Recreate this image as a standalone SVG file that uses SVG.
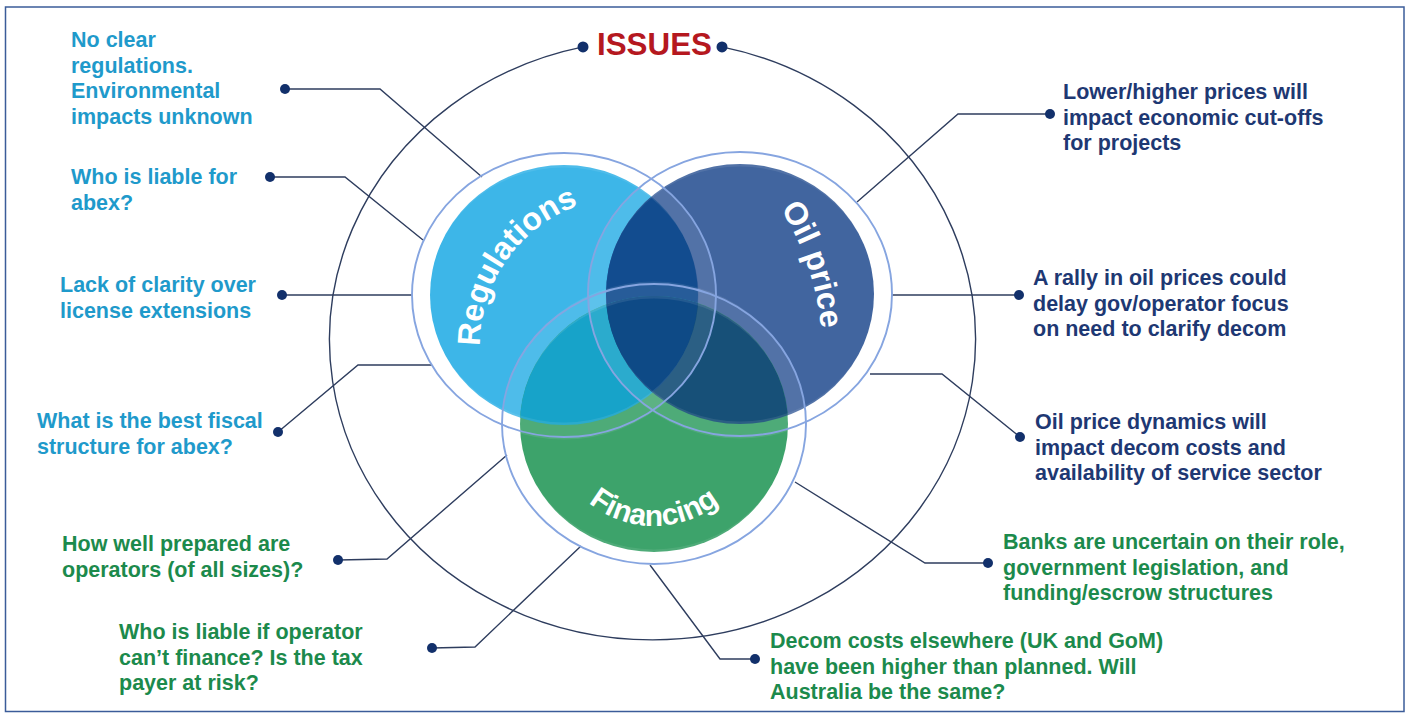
<svg xmlns="http://www.w3.org/2000/svg" width="1409" height="713" viewBox="0 0 1409 713">
<style>
.t{font-family:"Liberation Sans",Arial,sans-serif;font-weight:bold;font-size:21.5px}
.reg{fill:#1F9ACB}
.oil{fill:#1E3873}
.fin{fill:#1C8A4C}
.ln{fill:none;stroke:#2E3D5E;stroke-width:1.4}
.dot{fill:#12306B}
.ring{fill:none;stroke:#86A5E0;stroke-width:1.9}
.gap{fill:none;stroke:#FFFFFF;stroke-opacity:0.09;stroke-width:17}
.ct{font-family:"Liberation Sans",Arial,sans-serif;font-weight:bold;fill:#FFFFFF}
</style>
<defs>
<clipPath id="cReg"><ellipse cx="564" cy="295" rx="134" ry="130"/></clipPath>
<clipPath id="cOil"><ellipse cx="740" cy="294" rx="134" ry="130"/></clipPath>
<clipPath id="cFin"><ellipse cx="654" cy="424" rx="134" ry="128"/></clipPath>
<path id="pReg" d="M523.3,449.7 A148,148 0 0 1 690.5,210.9"/>
<path id="pOil" d="M691.7,120.8 A272,272 0 0 1 803.3,452.3"/>
<path id="pFin" d="M551.6,440.1 A104,104 0 0 0 756.4,440.1"/>
</defs>
<rect x="5.5" y="7" width="1398.5" height="704.5" fill="#FFFFFF" stroke="#3B5C99" stroke-width="1.5"/>

<g id="outer-ring">
<path class="ln" d="M722,46.9 A323,300 0 1 1 583,46.9"/>
</g>

<g id="connectors">
<polyline class="ln" points="285,89 380,89 482,177"/>
<polyline class="ln" points="270,177 345,177 423,240"/>
<polyline class="ln" points="282,295 412,295"/>
<polyline class="ln" points="278,432 358,365 432,365"/>
<polyline class="ln" points="338,560 387,559 507,455"/>
<polyline class="ln" points="432,648 475,647 581,546"/>
<polyline class="ln" points="1050,114 958,114 857,202"/>
<polyline class="ln" points="1019,295 892,295"/>
<polyline class="ln" points="870,374 942,374 1020,437"/>
<polyline class="ln" points="795,482 925,563 988,563"/>
<polyline class="ln" points="650,565 720,659 755,659"/>
<circle class="dot" cx="285" cy="89" r="5"/>
<circle class="dot" cx="270" cy="177" r="5"/>
<circle class="dot" cx="282" cy="295" r="5"/>
<circle class="dot" cx="278" cy="432" r="5"/>
<circle class="dot" cx="338" cy="560" r="5"/>
<circle class="dot" cx="432" cy="648" r="5"/>
<circle class="dot" cx="1050" cy="114" r="5"/>
<circle class="dot" cx="1019" cy="295" r="5"/>
<circle class="dot" cx="1020" cy="437" r="5"/>
<circle class="dot" cx="988" cy="563" r="5"/>
<circle class="dot" cx="755" cy="659" r="5"/>
</g>

<g id="title">
<circle class="dot" cx="583" cy="46.9" r="5.5"/>
<circle class="dot" cx="722" cy="46.9" r="5.5"/>
<text x="597" y="55" font-family="Liberation Sans,Arial,sans-serif" font-weight="bold" font-size="32" fill="#B5181F" textLength="115" lengthAdjust="spacingAndGlyphs">ISSUES</text>
</g>

<g id="venn">
<g id="regulations">
<ellipse cx="564" cy="295" rx="134" ry="130" fill="#3DB6E8"/>
</g>
<g id="oil-price">
<ellipse cx="740" cy="294" rx="134" ry="130" fill="#41659F"/>
</g>
<g id="financing">
<ellipse cx="654" cy="424" rx="134" ry="128" fill="#3DA36B"/>
</g>
<g id="overlaps">
<ellipse cx="740" cy="294" rx="134" ry="130" fill="#124C8F" clip-path="url(#cReg)"/>
<ellipse cx="654" cy="424" rx="134" ry="128" fill="#17A3C9" clip-path="url(#cReg)"/>
<ellipse cx="654" cy="424" rx="134" ry="128" fill="#175078" clip-path="url(#cOil)"/>
<g clip-path="url(#cReg)"><ellipse cx="654" cy="424" rx="134" ry="128" fill="#0E4A86" clip-path="url(#cOil)"/></g>
</g>
<g id="rings">
<ellipse class="gap" cx="564" cy="295" rx="143" ry="136"/>
<ellipse class="gap" cx="740" cy="294" rx="143" ry="136"/>
<ellipse class="gap" cx="654" cy="424" rx="143" ry="134"/>
<ellipse class="ring" cx="564" cy="295" rx="152" ry="142"/>
<ellipse class="ring" cx="740" cy="294" rx="152" ry="142"/>
<ellipse class="ring" cx="654" cy="424" rx="152" ry="140"/>
</g>
<g id="venn-labels">
<text class="ct" font-size="32"><textPath href="#pReg" startOffset="50%" text-anchor="middle">Regulations</textPath></text>
<text class="ct" font-size="32"><textPath href="#pOil" startOffset="50%" text-anchor="middle">Oil price</textPath></text>
<text class="ct" font-size="30"><textPath href="#pFin" startOffset="50%" text-anchor="middle">Financing</textPath></text>
</g>
</g>

<g id="n-no-clear">
<text class="t reg" x="71" y="47">No clear</text>
<text class="t reg" x="71" y="72.5">regulations.</text>
<text class="t reg" x="71" y="98">Environmental</text>
<text class="t reg" x="71" y="123.5">impacts unknown</text>
</g>
<g id="n-liable-abex">
<text class="t reg" x="71" y="184">Who is liable for</text>
<text class="t reg" x="71" y="209.5">abex?</text>
</g>
<g id="n-license">
<text class="t reg" x="60" y="292">Lack of clarity over</text>
<text class="t reg" x="60" y="317.5">license extensions</text>
</g>
<g id="n-fiscal">
<text class="t reg" x="37" y="428">What is the best fiscal</text>
<text class="t reg" x="37" y="453.5">structure for abex?</text>
</g>
<g id="n-prepared">
<text class="t fin" x="62" y="551">How well prepared are</text>
<text class="t fin" x="62" y="576.5">operators (of all sizes)?</text>
</g>
<g id="n-liable-finance">
<text class="t fin" x="119" y="639">Who is liable if operator</text>
<text class="t fin" x="119" y="664.5">can’t finance? Is the tax</text>
<text class="t fin" x="119" y="690">payer at risk?</text>
</g>
<g id="n-lower-higher">
<text class="t oil" x="1063" y="99">Lower/higher prices will</text>
<text class="t oil" x="1063" y="124.5">impact economic cut-offs</text>
<text class="t oil" x="1063" y="150">for projects</text>
</g>
<g id="n-rally">
<text class="t oil" x="1033" y="285">A rally in oil prices could</text>
<text class="t oil" x="1033" y="310.5">delay gov/operator focus</text>
<text class="t oil" x="1033" y="336">on need to clarify decom</text>
</g>
<g id="n-dynamics">
<text class="t oil" x="1035" y="429">Oil price dynamics will</text>
<text class="t oil" x="1035" y="454.5">impact decom costs and</text>
<text class="t oil" x="1035" y="480">availability of service sector</text>
</g>
<g id="n-banks">
<text class="t fin" x="1003" y="549">Banks are uncertain on their role,</text>
<text class="t fin" x="1003" y="574.5">government legislation, and</text>
<text class="t fin" x="1003" y="600">funding/escrow structures</text>
</g>
<g id="n-decom">
<text class="t fin" x="770" y="648">Decom costs elsewhere (UK and GoM)</text>
<text class="t fin" x="770" y="673.5">have been higher than planned. Will</text>
<text class="t fin" x="770" y="699">Australia be the same?</text>
</g>
</svg>
